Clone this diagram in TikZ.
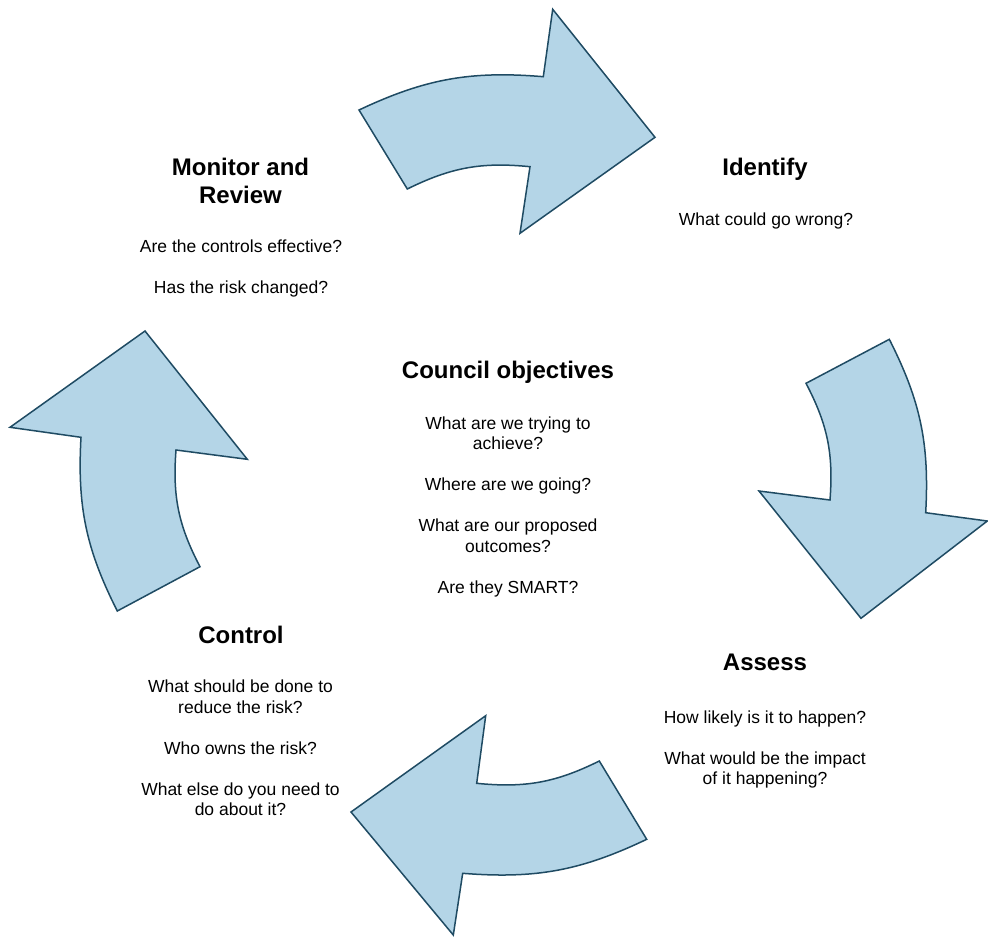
\documentclass[tikz,border=0pt]{standalone}
\usepackage{fontspec}
\setmainfont{Liberation Sans}
\definecolor{arrowfill}{HTML}{B4D5E7}
\definecolor{arrowline}{HTML}{1F4B63}
\tikzset{
  cyclearrow/.style={fill=arrowfill, draw=arrowline, line width=1.5pt, line join=miter},
  titletext/.style={anchor=base, inner sep=0pt, font=\bfseries\fontsize{24}{27.6}\selectfont},
  bodytext/.style={anchor=base, inner sep=0pt, font=\fontsize{17.5}{20.5}\selectfont},
}
\newcommand{\blocktext}[1]{\begin{tabular}[t]{@{}c@{}}#1\end{tabular}}
\begin{document}
\begin{tikzpicture}[x=1pt, y=-1pt]
\useasboundingbox (0,0) rectangle (988,937);

% top arrow (Monitor -> Identify)
\coordinate (a1t1) at (359,110);
\coordinate (a1n1) at (543.3,76.7);
\coordinate (a1h1) at (552.7,9.3);
\coordinate (a1p)  at (655,137.3);
\coordinate (a1h2) at (520,233.3);
\coordinate (a1n2) at (530,166.7);
\coordinate (a1t2) at (407.3,189);
\draw[cyclearrow] (a1t1) to[bend left=15] (a1n1) -- (a1h1) -- (a1p) -- (a1h2) -- (a1n2) to[bend right=16] (a1t2) -- cycle;

% right arrow (Identify -> Assess)
\coordinate (a2t1) at (889.3,339.3);
\coordinate (a2t2) at (806,383.3);
\coordinate (a2n2) at (830,500);
\coordinate (a2h1) at (759,491);
\coordinate (a2p)  at (861,618.3);
\coordinate (a2h2) at (987.3,521);
\coordinate (a2n1) at (925.7,512.7);
\draw[cyclearrow] (a2t1) -- (a2t2) to[bend left=16] (a2n2) -- (a2h1) -- (a2p) -- (a2h2) -- (a2n1) to[bend right=15] (a2t1) -- cycle;

% bottom arrow (Assess -> Control)
\coordinate (a3t2) at (599.3,761);
\coordinate (a3t1) at (646.7,839.3);
\coordinate (a3n1) at (462.7,873.3);
\coordinate (a3h1) at (453.3,935);
\coordinate (a3p)  at (351,812);
\coordinate (a3h2) at (485.7,715.7);
\coordinate (a3n2) at (476.7,783.3);
\draw[cyclearrow] (a3t2) -- (a3t1) to[bend left=15] (a3n1) -- (a3h1) -- (a3p) -- (a3h2) -- (a3n2) to[bend right=16] (a3t2) -- cycle;

% left arrow (Control -> Monitor)
\coordinate (a4t1) at (117.3,611);
\coordinate (a4t2) at (200,566.7);
\coordinate (a4n2) at (176,450);
\coordinate (a4h2) at (247.3,459.3);
\coordinate (a4p)  at (145,331);
\coordinate (a4h1) at (10,427.3);
\coordinate (a4n1) at (81,437.3);
\draw[cyclearrow] (a4t1) -- (a4t2) to[bend left=16] (a4n2) -- (a4h2) -- (a4p) -- (a4h1) -- (a4n1) to[bend right=15] (a4t1) -- cycle;

% texts
\node[titletext] (montitle) at (240.5,175.7) {\blocktext{Monitor and\\Review}};
\node[bodytext] (monbody) at (241,252.3) {\blocktext{Are the controls effective?\\[20.5pt]Has the risk changed?}};

\node[titletext] (idtitle) at (765,175.7) {\blocktext{Identify}};
\node[bodytext] (idbody) at (766,225) {\blocktext{What could go wrong?}};

\node[titletext] (cotitle) at (508,378.3) {\blocktext{Council objectives}};
\node[bodytext] (cobody) at (508,429) {\blocktext{What are we trying to\\achieve?\\[20.5pt]Where are we going?\\[20.5pt]What are our proposed\\outcomes?\\[20.5pt]Are they SMART?}};

\node[titletext] (astitle) at (765,670) {\blocktext{Assess}};
\node[bodytext] (asbody) at (765,723.3) {\blocktext{How likely is it to happen?\\[20.5pt]What would be the impact\\of it happening?}};

\node[titletext] (cttitle) at (241,643.3) {\blocktext{Control}};
\node[bodytext] (ctbody) at (240.5,692.7) {\blocktext{What should be done to\\reduce the risk?\\[20.5pt]Who owns the risk?\\[20.5pt]What else do you need to\\do about it?}};
\end{tikzpicture}
\end{document}
